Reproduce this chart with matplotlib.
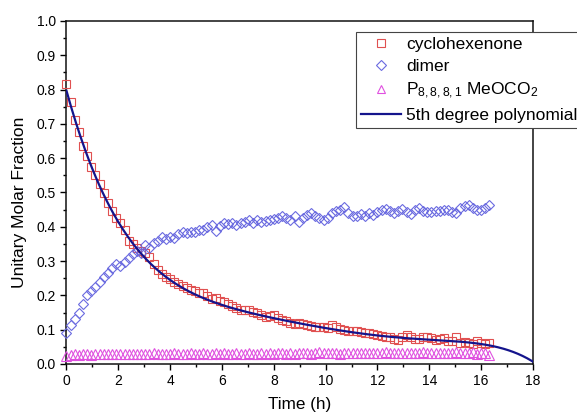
import numpy as np
import matplotlib
matplotlib.use("Agg")
import matplotlib.pyplot as plt
from matplotlib.ticker import MultipleLocator, FormatStrFormatter

plt.rcParams["font.family"] = ["Liberation Sans", "DejaVu Sans"]
plt.rcParams["mathtext.fontset"] = "custom"
plt.rcParams["mathtext.rm"] = "Liberation Sans"
plt.rcParams["mathtext.it"] = "Liberation Sans:italic"

# sampling times (h)
time_h = [
    0.00, 0.16, 0.32, 0.48, 0.64, 0.80, 0.96, 1.12, 1.28, 1.44,
    1.60, 1.76, 1.92, 2.08, 2.24, 2.40, 2.56, 2.72, 2.88, 3.04,
    3.20, 3.36, 3.52, 3.68, 3.84, 4.00, 4.16, 4.32, 4.48, 4.64,
    4.80, 4.96, 5.12, 5.28, 5.44, 5.60, 5.76, 5.92, 6.08, 6.24,
    6.40, 6.56, 6.72, 6.88, 7.04, 7.20, 7.36, 7.52, 7.68, 7.84,
    8.00, 8.16, 8.32, 8.48, 8.64, 8.80, 8.96, 9.12, 9.28, 9.44,
    9.60, 9.76, 9.92, 10.08, 10.24, 10.40, 10.56, 10.72, 10.88, 11.04,
    11.20, 11.36, 11.52, 11.68, 11.84, 12.00, 12.16, 12.32, 12.48, 12.64,
    12.80, 12.96, 13.12, 13.28, 13.44, 13.60, 13.76, 13.92, 14.08, 14.24,
    14.40, 14.56, 14.72, 14.88, 15.04, 15.20, 15.36, 15.52, 15.68, 15.84,
    16.00, 16.16, 16.32,
]

cyclohexenone = [
    0.815, 0.765, 0.710, 0.675, 0.635, 0.605, 0.575, 0.550, 0.525, 0.498,
    0.470, 0.445, 0.425, 0.410, 0.390, 0.360, 0.350, 0.338, 0.328, 0.325,
    0.312, 0.292, 0.275, 0.262, 0.253, 0.248, 0.240, 0.232, 0.226, 0.222,
    0.216, 0.212, 0.208, 0.207, 0.197, 0.190, 0.192, 0.185, 0.180, 0.174,
    0.170, 0.163, 0.158, 0.157, 0.156, 0.153, 0.150, 0.142, 0.138, 0.139,
    0.142, 0.135, 0.128, 0.124, 0.119, 0.118, 0.120, 0.116, 0.113, 0.112,
    0.109, 0.107, 0.109, 0.105, 0.113, 0.108, 0.102, 0.099, 0.097, 0.095,
    0.096, 0.093, 0.090, 0.091, 0.087, 0.085, 0.082, 0.080, 0.079, 0.074,
    0.071, 0.080, 0.084, 0.078, 0.072, 0.074, 0.079, 0.080, 0.076, 0.070,
    0.072, 0.075, 0.066, 0.068, 0.079, 0.062, 0.065, 0.060, 0.058, 0.068,
    0.060, 0.057, 0.062,
]

dimer = [
    0.090, 0.115, 0.130, 0.150, 0.175, 0.200, 0.212, 0.225, 0.240, 0.255,
    0.265, 0.280, 0.292, 0.287, 0.298, 0.308, 0.320, 0.330, 0.323, 0.348,
    0.338, 0.352, 0.360, 0.370, 0.364, 0.371, 0.366, 0.378, 0.385, 0.383,
    0.386, 0.385, 0.390, 0.390, 0.398, 0.405, 0.388, 0.402, 0.410, 0.408,
    0.412, 0.405, 0.410, 0.415, 0.420, 0.410, 0.420, 0.415, 0.418, 0.420,
    0.423, 0.425, 0.430, 0.425, 0.420, 0.430, 0.415, 0.425, 0.434, 0.439,
    0.430, 0.425, 0.420, 0.425, 0.440, 0.445, 0.449, 0.458, 0.440, 0.432,
    0.430, 0.438, 0.430, 0.440, 0.433, 0.442, 0.448, 0.452, 0.445, 0.440,
    0.447, 0.452, 0.442, 0.438, 0.448, 0.455, 0.445, 0.444, 0.444, 0.446,
    0.445, 0.449, 0.448, 0.442, 0.439, 0.454, 0.460, 0.463, 0.455, 0.450,
    0.449, 0.455, 0.463,
]

phosphonium = [
    0.022, 0.026, 0.028, 0.027, 0.029, 0.028, 0.027, 0.029, 0.028, 0.028,
    0.029, 0.028, 0.029, 0.028, 0.030, 0.029, 0.028, 0.029, 0.030, 0.029,
    0.030, 0.031, 0.029, 0.030, 0.029, 0.030, 0.031, 0.030, 0.029, 0.030,
    0.031, 0.029, 0.030, 0.032, 0.030, 0.029, 0.031, 0.030, 0.032, 0.030,
    0.030, 0.031, 0.029, 0.030, 0.031, 0.030, 0.030, 0.032, 0.030, 0.031,
    0.030, 0.031, 0.032, 0.030, 0.031, 0.029, 0.031, 0.032, 0.031, 0.030,
    0.031, 0.034, 0.032, 0.031, 0.033, 0.031, 0.030, 0.032, 0.031, 0.033,
    0.032, 0.031, 0.033, 0.032, 0.031, 0.033, 0.032, 0.034, 0.032, 0.031,
    0.033, 0.032, 0.033, 0.031, 0.032, 0.033, 0.034, 0.032, 0.033, 0.032,
    0.033, 0.032, 0.031, 0.033, 0.034, 0.032, 0.033, 0.032, 0.034, 0.030,
    0.033, 0.031, 0.027,
]

# values of the reported fit curve at selected times (h); the
# 5th degree polynomial is recovered from them by least squares
fit_curve_t = [0.0, 0.59, 1.29, 1.68, 2.83, 3.6, 4.89, 6.1, 8.04, 10.0,
               11.9, 13.8, 15.9, 16.45, 17.36, 18.0]
fit_curve_v = [0.800, 0.643, 0.522, 0.459, 0.332, 0.259, 0.206, 0.172,
               0.133, 0.105, 0.083, 0.072, 0.060, 0.052, 0.031, 0.007]
fit_degree = 5
fit_range = (0.0, 18.0)

fig = plt.figure(figsize=(5.77, 4.18), dpi=100)
ax = fig.add_axes([0.1152, 0.1292, 0.8085, 0.8206])

t = np.asarray(time_h)
coeffs = np.polyfit(fit_curve_t, fit_curve_v, fit_degree)
t_fit = np.linspace(*fit_range, 400)

ax.plot(t, cyclohexenone, linestyle="none", marker="s", markersize=6.0,
        markerfacecolor="none", markeredgecolor="#e05050", markeredgewidth=0.8,
        label="cyclohexenone", zorder=3, clip_on=False)
ax.plot(t, dimer, linestyle="none", marker="D", markersize=5.5,
        markerfacecolor="none", markeredgecolor="#6a6ae0", markeredgewidth=0.8,
        label="dimer", zorder=3, clip_on=False)
ax.plot(t, phosphonium, linestyle="none", marker="^", markersize=6.5,
        markerfacecolor="none", markeredgecolor="#e050e0", markeredgewidth=0.8,
        label=r"P$_{8,8,8,1}$ MeOCO$_2$", zorder=3, clip_on=False)
ax.plot(t_fit, np.polyval(coeffs, t_fit), color="#14148c", linewidth=1.6,
        label="5th degree polynomial", zorder=4)

ax.set_xlim(0, 18)
ax.set_ylim(0, 1.0)
ax.xaxis.set_major_locator(MultipleLocator(2))
ax.xaxis.set_minor_locator(MultipleLocator(1))
ax.yaxis.set_major_locator(MultipleLocator(0.1))
ax.yaxis.set_minor_locator(MultipleLocator(0.05))
ax.yaxis.set_major_formatter(FormatStrFormatter("%.1f"))
ax.tick_params(which="major", direction="out", length=4.5, width=1.0,
               labelsize=10, top=False, right=False, pad=3)
ax.tick_params(which="minor", direction="out", length=2.5, width=1.0,
               top=False, right=False)
for sp in ax.spines.values():
    sp.set_linewidth(1.1)
    sp.set_color("#111111")

ax.set_xlabel("Time (h)", fontsize=12.3, labelpad=6)
ax.set_ylabel("Unitary Molar Fraction", fontsize=12.5, labelpad=6)
ax.yaxis.set_label_coords(-0.084, 0.47)

leg = ax.legend(loc="upper left", bbox_to_anchor=(356 / 577, 1 - 32 / 418),
                bbox_transform=fig.transFigure, fontsize=12.5, numpoints=1,
                handlelength=2.3, handletextpad=0.3, labelspacing=0.38,
                borderpad=0.3, borderaxespad=0, fancybox=False, framealpha=1,
                edgecolor="#444444", markerscale=0.85)
leg.get_frame().set_linewidth(0.8)

fig.savefig("out.png", dpi=100)
